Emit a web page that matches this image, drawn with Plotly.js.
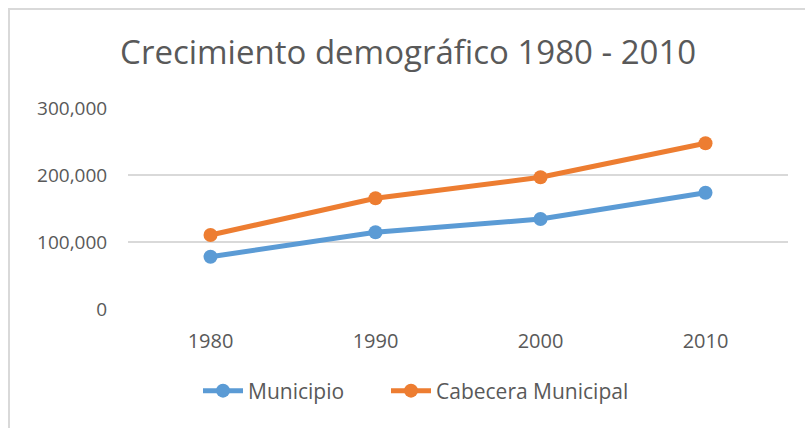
<!DOCTYPE html>
<html>
<head>
<meta charset="utf-8">
<script src="https://cdn.plot.ly/plotly-3.0.1.min.js"></script>
<style>
html,body{margin:0;padding:0;overflow:hidden;background:#fff;}
#chart{width:805px;height:428px;}
#frame{position:absolute;left:8px;top:8px;width:830px;height:450px;border:2px solid #d9d9d9;pointer-events:none;}
</style>
</head>
<body>
<div id="chart"></div>
<div id="frame"></div>
<script>
const years = ['1980', '1990', '2000', '2010'];
const municipio = [78000, 114500, 134300, 173600];
const cabecera = [110400, 165200, 196600, 247300];
const seriesNames = ['Municipio', 'Cabecera Municipal'];
const yTicks = [0, 100000, 200000, 300000];
const yTickText = ['0', '100,000', '200,000', '300,000'];

const font = "'Open Sans', sans-serif";
const grey = '#595959';

const traces = [
  {x: years, y: municipio, name: seriesNames[0], type: 'scatter', mode: 'lines+markers', legend: 'legend',
   line: {color: '#5B9BD5', width: 5}, marker: {color: '#5B9BD5', size: 14}},
  {x: years, y: cabecera, name: seriesNames[1], type: 'scatter', mode: 'lines+markers', legend: 'legend2',
   line: {color: '#ED7D31', width: 5}, marker: {color: '#ED7D31', size: 14}}
];

const legendBase = {orientation: 'h', xanchor: 'left', y: -0.408, yanchor: 'middle',
  font: {size: 21, color: grey}, itemwidth: 40, bgcolor: 'rgba(0,0,0,0)'};

const layout = {
  width: 805, height: 428,
  margin: {l: 128, r: 17, t: 108, b: 119},
  paper_bgcolor: '#ffffff', plot_bgcolor: '#ffffff',
  font: {family: font, color: grey, size: 20},
  title: {text: 'Crecimiento demográfico 1980 - 2010', font: {family: font, size: 33, color: grey},
          xref: 'container', x: 0.507, xanchor: 'center', yref: 'container', y: 0.878, yanchor: 'middle'},
  xaxis: {type: 'category', range: [-0.5, 3.5], showgrid: false, zeroline: false, showline: false,
          ticks: 'outside', ticklen: 14, tickcolor: 'rgba(0,0,0,0)', tickfont: {size: 20, color: grey}},
  yaxis: {range: [0, 300000], tickvals: yTicks, ticktext: yTickText, showgrid: true, gridcolor: '#d9d9d9',
          gridwidth: 1.5, zeroline: false, showline: false,
          ticks: 'outside', ticklen: 16, tickcolor: 'rgba(0,0,0,0)', tickfont: {size: 19, color: grey}},
  showlegend: true,
  legend: Object.assign({}, legendBase, {x: (198 - 128) / 660}),
  legend2: Object.assign({}, legendBase, {x: (386 - 128) / 660})
};

Plotly.newPlot('chart', traces, layout, {displayModeBar: false, staticPlot: true});
</script>
</body>
</html>
